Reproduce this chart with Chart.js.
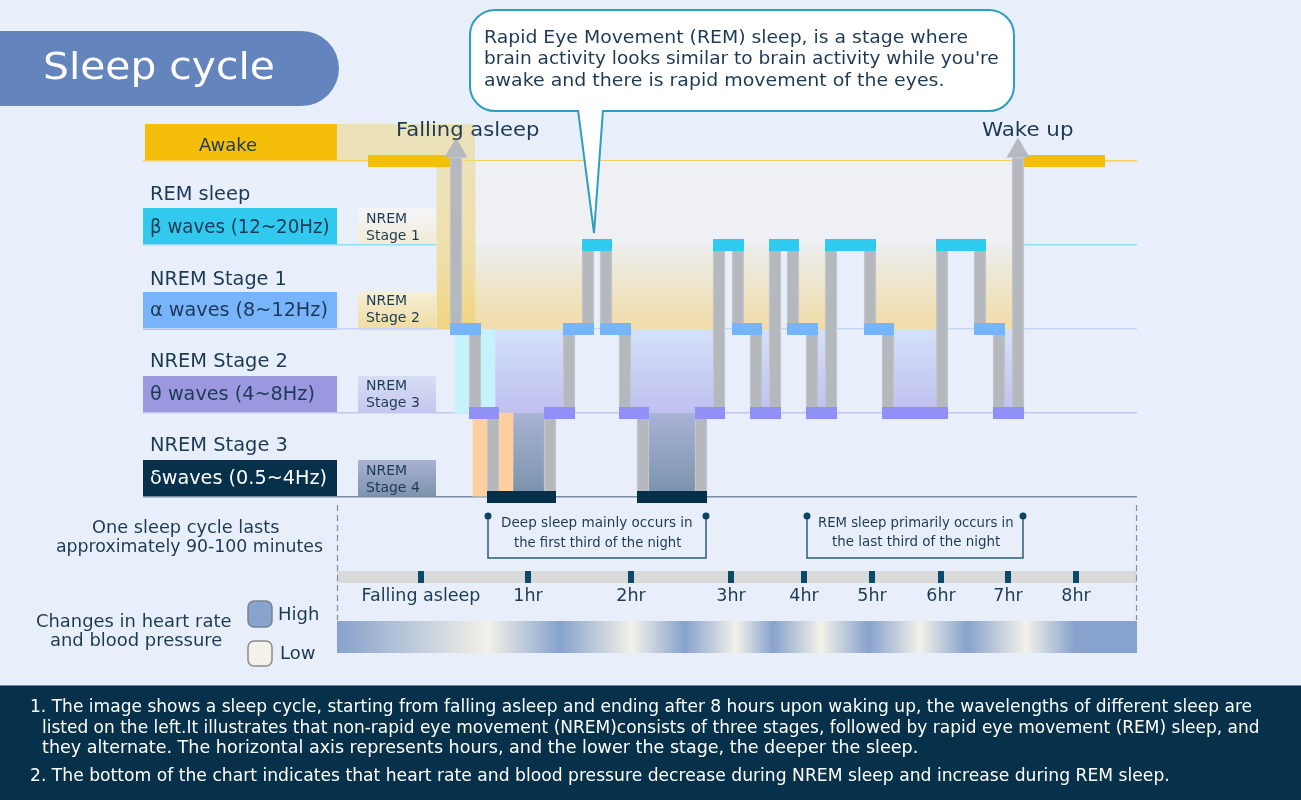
<!DOCTYPE html>
<html>
<head>
<meta charset="utf-8">
<script src="https://cdn.jsdelivr.net/npm/chart.js@4.4.1/dist/chart.umd.min.js"></script>
<style>
body{margin:0;width:1301px;height:800px;overflow:hidden;position:relative;background:#e8effb;font-family:'DejaVu Sans',sans-serif;color:#1d3a54}
.b{position:absolute}
.t{position:absolute;white-space:nowrap;transform-origin:0 50%}
#bg{position:absolute;left:0;top:0;width:1301px;height:800px;z-index:0}
#c{position:absolute;left:0;top:0;z-index:1}
#fg{position:absolute;left:0;top:0;width:1301px;height:800px;z-index:2}
svg{position:absolute;left:0;top:0}
</style>
</head>
<body>
<div id="bg">
  <div class="b" style="left:-40px;top:31px;width:379px;height:75px;border-radius:38px;background:#6384bc"></div>
  <div class="b" style="left:145px;top:124px;width:192px;height:37px;background:#f5be0b"></div>
  <div class="b" style="left:337px;top:124px;width:138px;height:37px;background:#ece2b9"></div>
  <div class="b" style="left:143px;top:208px;width:194px;height:37px;background:#31c9ee"></div>
  <div class="b" style="left:143px;top:292px;width:194px;height:38px;background:#77b4fb"></div>
  <div class="b" style="left:143px;top:376px;width:194px;height:37px;background:#9b98e0"></div>
  <div class="b" style="left:143px;top:460px;width:194px;height:37px;background:#07304a"></div>
  <div class="b" style="left:358px;top:208px;width:78px;height:37px;background:linear-gradient(180deg,#f4f5f8,#f1ebd4)"></div>
  <div class="b" style="left:358px;top:292px;width:78px;height:38px;background:linear-gradient(180deg,#f5efd6,#f0dc9e)"></div>
  <div class="b" style="left:358px;top:376px;width:78px;height:37px;background:linear-gradient(180deg,#d6def4,#c5c6ef)"></div>
  <div class="b" style="left:358px;top:460px;width:78px;height:37px;background:linear-gradient(180deg,#a9b3d3,#7c92aa)"></div>
  <div class="b" style="left:0;top:685px;width:1301px;height:115px;background:#07314a;border-top:1px solid #6d8598"></div>
</div>
<canvas id="c" width="1301" height="800"></canvas>
<div id="fg">
  <div class="b" style="left:469px;top:9px;width:542px;height:99px;border:2px solid #2a9fc0;border-radius:26px;background:#fff"></div>
  <svg width="1301" height="800">
    <polygon points="578,106 603,106 594,233" fill="#fff"/>
    <polyline points="578,110 594,233 603,110" fill="none" stroke="#2a9fc0" stroke-width="2"/>
    <line x1="337.5" y1="505" x2="337.5" y2="620" stroke="#7d8fa0" stroke-width="1.2" stroke-dasharray="6 4"/>
    <line x1="1136.5" y1="505" x2="1136.5" y2="620" stroke="#7d8fa0" stroke-width="1.2" stroke-dasharray="6 4"/>
    <polyline points="488,516 488,558 706,558 706,516" fill="none" stroke="#2b5b7a" stroke-width="1.5"/>
    <polyline points="807,516 807,558 1023,558 1023,516" fill="none" stroke="#2b5b7a" stroke-width="1.5"/>
    <circle cx="488" cy="516" r="3.5" fill="#0b4565"/><circle cx="706" cy="516" r="3.5" fill="#0b4565"/>
    <circle cx="807" cy="516" r="3.5" fill="#0b4565"/><circle cx="1023" cy="516" r="3.5" fill="#0b4565"/>
    <rect x="248" y="601" width="24" height="26" rx="6" fill="#88a3cc" stroke="#7b8290" stroke-width="1.5"/>
    <rect x="248" y="641" width="24" height="25" rx="6" fill="#f3f1e8" stroke="#8a8a8a" stroke-width="1.5"/>
  </svg>
</div>
<script>
// stage levels: 0 = NREM Stage 3 (deepest) ... 4 = Awake
var levelColors = ['#06304a', '#9090f6', '#76b4fc', '#2ecbef', '#f5be0a'];
var levelLines = ['#7b8da1', '#c6c6f0', '#c6d8f5', '#8fe0f2', '#f6cf5c'];
var awakeFrom = 225, awakeUntil = 962;
var switchAt = [313, 332, 350, 407, 426, 445, 463, 482, 500, 558, 576, 595, 613, 632, 650, 669, 688, 727, 745, 799, 837, 856, 875];
var stageAfter = [2, 1, 0, 1, 2, 3, 2, 1, 0, 1, 3, 2, 1, 3, 2, 1, 3, 2, 1, 3, 2, 1, 4];
var timeTickPos = [278, 385, 488, 588, 661, 729, 798, 865, 933];
var timeLabels = ['Falling asleep', '1hr', '2hr', '3hr', '4hr', '5hr', '6hr', '7hr', '8hr'];
var heartPos = [194, 345, 417, 489, 542, 593, 630, 678, 726, 777, 824, 883, 932, 994];
var heartLevel = ['High', 'Low', 'High', 'Low', 'High', 'Low', 'High', 'Low', 'High', 'Low', 'High', 'Low', 'High', 'High'];
var heartColors = {High: '#87a2cc', Low: '#f3f1e9'};

var half = 6, arrowBase = 4.04, arrowTip = 4.12;

// horizontal stage segments, one dataset per level
var segData = [[], [], [], [], []];
function addSeg(lv, a, b) { segData[lv].push({x: a, y: lv}, {x: b, y: lv}, {x: b, y: null}); }
addSeg(4, awakeFrom, switchAt[0] - half);
for (var k = 0; k < switchAt.length - 1; k++) addSeg(stageAfter[k], switchAt[k] - half, switchAt[k + 1] + half);
addSeg(4, switchAt[switchAt.length - 1] + half, awakeUntil);

// vertical connectors and arrows
var bars = [], arrows = [], fillPts = [];
for (var i = 0; i < switchAt.length; i++) {
  var from = i === 0 ? 4 : stageAfter[i - 1], to = stageAfter[i];
  var lo = Math.min(from, to), hi = Math.max(from, to);
  if (hi === 4) { hi = arrowBase; arrows.push({x: switchAt[i], y: arrowTip}); }
  bars.push({x: switchAt[i], y: [lo, hi]});
  fillPts.push({x: switchAt[i], y: to});
}
var cyanStrips = [{x: switchAt[1] - 13, y: [1, 2]}, {x: switchAt[1] + 13, y: [1, 2]}];
var orangeStrips = [{x: switchAt[2] - 13, y: [0, 1]}, {x: switchAt[2] + 13, y: [0, 1]}];

function grad(chart, fromLv, toLv, stops) {
  if (!chart.chartArea) return 'transparent';
  var y = chart.scales.y;
  var g = chart.ctx.createLinearGradient(0, y.getPixelForValue(fromLv), 0, y.getPixelForValue(toLv));
  stops.forEach(function (s) { g.addColorStop(s[0], s[1]); });
  return g;
}

var sideBits = {
  id: 'sideBits',
  afterDraw: function (chart) {
    var c = chart.ctx, x = chart.scales.x;
    var x0 = x.getPixelForValue(heartPos[0]), x1 = x.getPixelForValue(heartPos[heartPos.length - 1]);
    c.save();
    c.fillStyle = '#d9d9d9';
    c.fillRect(x0, 571, x1 - x0, 12);
    c.fillStyle = '#0b4a6a';
    timeTickPos.forEach(function (v) { c.fillRect(x.getPixelForValue(v) - 3, 571, 6, 12); });
    var g = c.createLinearGradient(x0, 0, x1, 0);
    heartPos.forEach(function (v, j) { g.addColorStop((x.getPixelForValue(v) - x0) / (x1 - x0), heartColors[heartLevel[j]]); });
    c.fillStyle = g;
    c.fillRect(x0, 621, x1 - x0, 32);
    c.restore();
  }
};

var datasets = [];
datasets.push({type: 'scatter', data: arrows, pointStyle: 'triangle', pointRadius: 13.3, backgroundColor: '#b6b9bd', borderWidth: 0, order: 0, clip: false});
for (var lv = 0; lv < 5; lv++) {
  datasets.push({type: 'line', data: segData[lv], borderColor: levelColors[lv], borderWidth: 12, borderCapStyle: 'butt',
    pointRadius: 0, spanGaps: false, tension: 0, fill: false, order: 1, clip: false});
}
datasets.push({type: 'bar', data: bars, backgroundColor: '#b5b8bc', borderColor: '#c9ccd0', borderWidth: 1,
  barThickness: 12, grouped: false, order: 6, clip: false});
datasets.push({type: 'bar', data: cyanStrips, backgroundColor: '#c6f3fb', barThickness: 14, grouped: false, order: 7, clip: false});
datasets.push({type: 'bar', data: orangeStrips, backgroundColor: '#ffd09f', barThickness: 14, grouped: false, order: 7, clip: false});
datasets.push({type: 'bar', data: [{x: switchAt[0], y: [2, 4]}], barThickness: 38, grouped: false, order: 8, clip: false,
  backgroundColor: function (ctx) { return grad(ctx.chart, 4, 2, [[0, '#ece2ba'], [0.6, '#efdfa8'], [1, '#f1d47e']]); }});
datasets.push({type: 'line', data: fillPts, stepped: true, borderWidth: 0, pointRadius: 0, order: 9,
  fill: {value: 4},
  backgroundColor: function (ctx) {
    return grad(ctx.chart, 4, 0, [[0, '#eef0f3'], [0.25, '#eef0f3'], [0.2501, '#eceeee'], [0.5, '#f1dca6'],
      [0.5001, '#d5e1f8'], [0.75, '#bfc0f0'], [0.7501, '#a9b3d6'], [1, '#7991aa']]);
  }});

new Chart(document.getElementById('c'), {
  type: 'line',
  data: {datasets: datasets},
  options: {
    responsive: false, animation: false, events: [], devicePixelRatio: 1,
    layout: {padding: {left: 143, right: 164, top: 161, bottom: 183}},
    plugins: {legend: {display: false}, tooltip: {enabled: false}},
    scales: {
      x: {type: 'linear', min: 0, max: 994, offset: false,
        afterBuildTicks: function (s) { s.ticks = timeTickPos.map(function (v) { return {value: v}; }); },
        ticks: {autoSkip: false, maxRotation: 0, padding: 5, color: '#1d3a54',
          font: {family: "'DejaVu Sans'", size: 17.5}, callback: function (v, i) { return timeLabels[i]; }},
        grid: {drawOnChartArea: false, tickLength: 84, tickColor: 'transparent'},
        border: {display: false},
        afterFit: function (s) { s.height = 120; }},
      y: {min: 0, max: 4,
        afterBuildTicks: function (s) { s.ticks = [0, 1, 2, 3, 4].map(function (v) { return {value: v}; }); },
        ticks: {display: false},
        grid: {color: function (c) { return levelLines[c.tick.value]; }, lineWidth: 1.5, drawTicks: false},
        border: {display: false},
        afterFit: function (s) { s.width = 0; }}
    }
  },
  plugins: [sideBits]
});

// text
var fg = document.getElementById('fg');
function T(txt, x, cy, size, o) {
  o = o || {};
  var d = document.createElement('div');
  d.className = 't';
  d.textContent = txt;
  d.style.fontSize = size + 'px';
  d.style.lineHeight = (size * 1.2) + 'px';
  d.style.top = (cy - size * 0.62) + 'px';
  if (o.color) d.style.color = o.color;
  fg.appendChild(d);
  var w = d.offsetWidth, left = o.center ? x - w / 2 : x;
  if (o.w) {
    d.style.transform = 'scaleX(' + (o.w / w) + ')';
    left = o.center ? x - o.w / 2 : x;
  }
  d.style.left = left + 'px';
}
T('Sleep cycle', 43, 68, 38, {color: '#fff', w: 232});
T('Rapid Eye Movement (REM) sleep, is a stage where', 484, 38, 17.5, {w: 484});
T("brain activity looks similar to brain activity while you're", 484, 59, 17.5, {w: 515});
T('awake and there is rapid movement of the eyes.', 484, 81, 17.5, {w: 461});
T('Falling asleep', 467, 130, 19.5, {center: true, w: 143});
T('Wake up', 1028, 130, 19.5, {center: true, w: 92});
T('Awake', 228, 145, 18, {center: true});
T('REM sleep', 150, 194, 19, {w: 100});
T('\u03b2 waves (12~20Hz)', 150, 227, 19, {w: 180});
T('NREM Stage 1', 150, 279, 19, {w: 137});
T('\u03b1 waves (8~12Hz)', 150, 310, 19, {w: 178});
T('NREM Stage 2', 150, 361, 19, {w: 138});
T('\u03b8 waves (4~8Hz)', 150, 394, 19, {w: 165});
T('NREM Stage 3', 150, 445, 19, {w: 138});
T('\u03b4waves (0.5~4Hz)', 150, 478, 19, {w: 177, color: '#fff'});
[['1', 219, 236], ['2', 301, 318], ['3', 386, 403], ['4', 471, 488]].forEach(function (s) {
  T('NREM', 366, s[1], 14);
  T('Stage ' + s[0], 366, s[2], 14);
});
T('One sleep cycle lasts', 186, 528, 17, {center: true, w: 188});
T('approximately 90-100 minutes', 189, 547, 17, {center: true, w: 267});
T('Deep sleep mainly occurs in', 597, 522, 13.5, {center: true, w: 192});
T('the first third of the night', 597, 542, 13.5, {center: true, w: 167});
T('REM sleep primarily occurs in', 916, 522, 13.5, {center: true, w: 196});
T('the last third of the night', 916, 541, 13.5, {center: true, w: 168});
T('Changes in heart rate', 134, 622, 17, {center: true, w: 196});
T('and blood pressure', 136, 641, 17, {center: true, w: 172});
T('High', 278, 614, 18);
T('Low', 280, 653, 18);
T('1. The image shows a sleep cycle, starting from falling asleep and ending after 8 hours upon waking up, the wavelengths of different sleep are', 30, 707, 17, {color: '#fff', w: 1222});
T('listed on the left.It illustrates that non-rapid eye movement (NREM)consists of three stages, followed by rapid eye movement (REM) sleep, and', 42, 728, 17, {color: '#fff', w: 1218});
T('they alternate. The horizontal axis represents hours, and the lower the stage, the deeper the sleep.', 42, 748, 17, {color: '#fff', w: 876});
T('2. The bottom of the chart indicates that heart rate and blood pressure decrease during NREM sleep and increase during REM sleep.', 30, 776, 17, {color: '#fff', w: 1140});
</script>
</body>
</html>
